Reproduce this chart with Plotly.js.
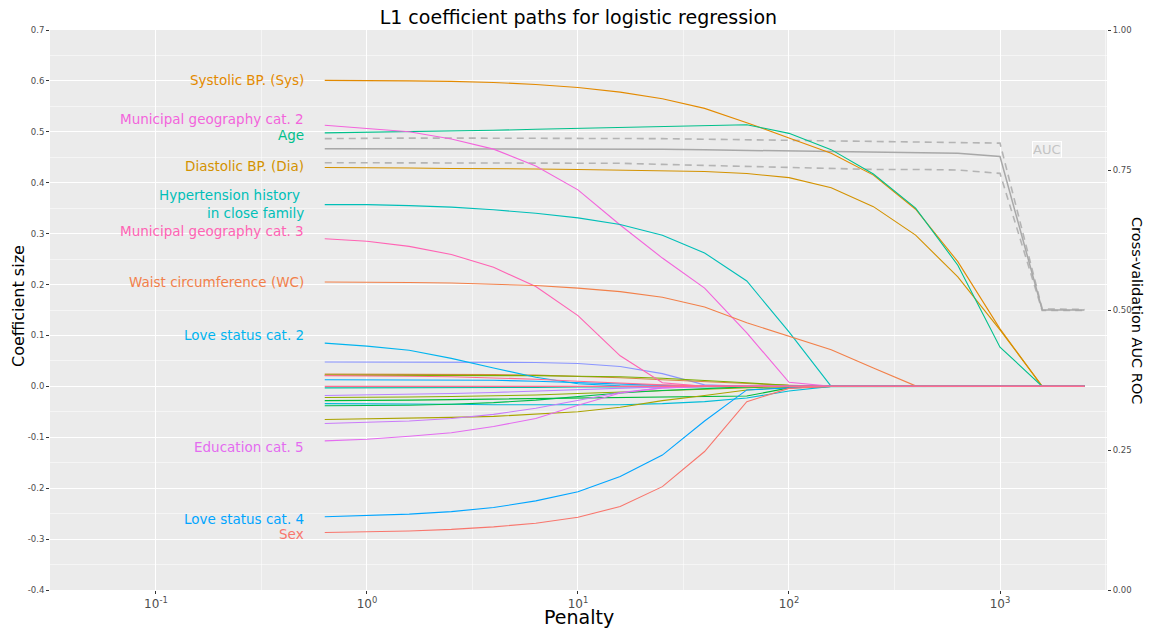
<!DOCTYPE html>
<html>
<head>
<meta charset="utf-8">
<script src="https://cdn.plot.ly/plotly-3.0.1.min.js"></script>
<style>html,body{margin:0;padding:0;background:#fff;}#chart{width:1151px;height:628px;}</style>
</head>
<body>
<div id="chart"></div>
<script>
// Penalty grid (x values)
const penalty = [0.631, 1, 1.585, 2.512, 3.981, 6.31, 10, 15.85, 25.12, 39.81, 63.1, 100, 158.5, 251.2, 398.1, 631, 1000, 1585, 2512];

// Cross-validation AUC (right axis)
const aucMean  = [0.788,0.788,0.788,0.788,0.788,0.788,0.788,0.787,0.787,0.786,0.785,0.784,0.782,0.781,0.780,0.780,0.774,0.500,0.500];
const aucUpper = [0.806,0.807,0.807,0.807,0.807,0.807,0.807,0.806,0.806,0.805,0.804,0.803,0.802,0.801,0.801,0.800,0.798,0.502,0.501];
const aucLower = [0.763,0.763,0.763,0.763,0.763,0.763,0.763,0.762,0.760,0.758,0.756,0.754,0.752,0.751,0.751,0.750,0.744,0.499,0.499];

// Labelled coefficient paths
const systolic    = [0.601,0.601,0.600,0.599,0.597,0.593,0.587,0.578,0.565,0.546,0.518,0.488,0.458,0.415,0.348,0.245,0.113,0,0];
const diastolic   = [0.430,0.430,0.429,0.428,0.428,0.427,0.426,0.425,0.424,0.422,0.418,0.410,0.390,0.353,0.297,0.215,0.111,0,0];
const age         = [0.498,0.499,0.500,0.501,0.503,0.505,0.507,0.509,0.511,0.513,0.514,0.497,0.465,0.417,0.350,0.238,0.077,0,0];
const munGeo2     = [0.513,0.507,0.500,0.486,0.466,0.433,0.386,0.317,0.252,0.193,0.105,0.008,0,0,0,0,0,0,0];
const hypertension= [0.357,0.357,0.355,0.352,0.347,0.340,0.331,0.318,0.297,0.262,0.207,0.107,0,0,0,0,0,0,0];
const munGeo3     = [0.290,0.285,0.275,0.259,0.234,0.196,0.139,0.060,0.007,0,0,0,0,0,0,0,0,0,0];
const waist       = [0.205,0.205,0.204,0.203,0.201,0.198,0.193,0.186,0.175,0.156,0.125,0.099,0.072,0.036,0.001,0,0,0,0];
const loveStatus2 = [0.085,0.079,0.071,0.055,0.036,0.018,0.005,0.001,0,0,0,0,0,0,0,0,0,0,0];
const education5  = [-0.107,-0.104,-0.098,-0.091,-0.079,-0.063,-0.037,-0.013,-0.003,0,0,0,0,0,0,0,0,0,0];
const loveStatus4 = [-0.256,-0.254,-0.251,-0.246,-0.238,-0.225,-0.207,-0.177,-0.135,-0.068,-0.007,-0.003,0,0,0,0,0,0,0];
const sex         = [-0.287,-0.286,-0.284,-0.281,-0.276,-0.269,-0.257,-0.236,-0.197,-0.128,-0.030,-0.004,0,0,0,0,0,0,0];

// Unlabelled coefficient paths
const other01 = [0.048,0.048,0.048,0.048,0.048,0.047,0.045,0.039,0.025,0.003,0,0,0,0,0,0,0,0,0];
const other02 = [0.024,0.024,0.024,0.023,0.023,0.022,0.020,0.017,0.013,0.009,0.005,0.002,0,0,0,0,0,0,0];
const other03 = [0.022,0.022,0.022,0.022,0.021,0.021,0.020,0.019,0.016,0.012,0.007,0.002,0,0,0,0,0,0,0];
const other04 = [0.021,0.021,0.020,0.019,0.017,0.014,0.010,0.006,0.003,0.001,0,0,0,0,0,0,0,0,0];
const other05 = [0.013,0.013,0.013,0.013,0.012,0.010,0.007,0.004,0.002,0,0,0,0,0,0,0,0,0,0];
const other06 = [-0.003,-0.003,-0.003,-0.002,-0.002,-0.002,-0.001,-0.001,0,0,0,0,0,0,0,0,0,0,0];
const other07 = [-0.018,-0.017,-0.016,-0.014,-0.012,-0.009,-0.006,-0.003,-0.001,0,0,0,0,0,0,0,0,0,0];
const other08 = [-0.022,-0.022,-0.021,-0.020,-0.019,-0.017,-0.014,-0.011,-0.008,-0.005,-0.002,0,0,0,0,0,0,0,0];
const other09 = [-0.028,-0.028,-0.027,-0.026,-0.025,-0.024,-0.022,-0.021,-0.020,-0.020,-0.019,-0.003,0,0,0,0,0,0,0];
const other10 = [-0.034,-0.034,-0.035,-0.035,-0.036,-0.036,-0.037,-0.036,-0.034,-0.030,-0.023,-0.009,0,0,0,0,0,0,0];
const other11 = [-0.038,-0.038,-0.037,-0.035,-0.032,-0.027,-0.020,-0.013,-0.008,-0.004,-0.001,0,0,0,0,0,0,0,0];
const other12 = [-0.065,-0.064,-0.063,-0.061,-0.059,-0.055,-0.050,-0.041,-0.028,-0.018,-0.007,-0.002,0,0,0,0,0,0,0];
const other13 = [-0.073,-0.071,-0.068,-0.063,-0.055,-0.043,-0.027,-0.012,-0.003,0,0,0,0,0,0,0,0,0,0];
const other14 = [0,0,0,0,0,0,0,0,0,0,0,0,0,0,0,0,0,0,0];

// Labels
const labelNames = ["Systolic BP. (Sys)","Municipal geography cat. 2","Age","Diastolic BP. (Dia)",
  "Hypertension history <br>in close family","Municipal geography cat. 3","Waist circumference (WC)",
  "Love status cat. 2","Education cat. 5","Love status cat. 4","Sex"];
const labelY = [0.601, 0.525, 0.494, 0.432, 0.358, 0.306, 0.205, 0.101, -0.120, -0.261, -0.290];
const labelColors = ["#E38A00","#F364DC","#00C08B","#D39200","#00BFB8","#FF63B4","#F2804A","#00B4EF","#E46CF0","#00A5FF","#F8766D"];

const yTickVals = [-0.4,-0.3,-0.2,-0.1,0,0.1,0.2,0.3,0.4,0.5,0.6,0.7];
const yTickText = ["-0.4","-0.3","-0.2","-0.1","0.0","0.1","0.2","0.3","0.4","0.5","0.6","0.7"];
const aucTickVals = [0,0.25,0.5,0.75,1];
const aucTickText = ["0.00","0.25","0.50","0.75","1.00"];
const xTickVals = [0.1,1,10,100,1000];
const xTickText = ["10<sup>-1</sup>","10<sup>0</sup>","10<sup>1</sup>","10<sup>2</sup>","10<sup>3</sup>"];
const xMinorVals = [0.0316,0.316,3.16,31.6,316,3162];

const coefSeries = [
  [other01,"#8A95FF"],[other02,"#D58A40"],[other03,"#7CAE00"],[other05,"#00ABFD"],
  [other06,"#00C1A3"],[other07,"#B983FF"],[other08,"#8FAA00"],[other09,"#00BA38"],
  [other10,"#00BCD8"],[other11,"#00BB4E"],[other12,"#ABA300"],[other13,"#C97BFA"],
  [systolic,labelColors[0]],[diastolic,labelColors[3]],[age,labelColors[2]],
  [munGeo2,labelColors[1]],[hypertension,labelColors[4]],[munGeo3,labelColors[5]],
  [waist,labelColors[6]],[loveStatus2,labelColors[7]],[education5,labelColors[8]],
  [loveStatus4,labelColors[9]],[sex,labelColors[10]],[other04,"#FF6C91"],[other14,"#FF6C91"]
];

const traces = [];
// AUC on primary y (right side), drawn beneath
traces.push({x:penalty,y:aucUpper,type:'scatter',mode:'lines',yaxis:'y',line:{color:'#B4B4B4',width:1.6,dash:'7px,5px'},hoverinfo:'skip'});
traces.push({x:penalty,y:aucLower,type:'scatter',mode:'lines',yaxis:'y',line:{color:'#B4B4B4',width:1.6,dash:'7px,5px'},hoverinfo:'skip'});
traces.push({x:penalty,y:aucMean,type:'scatter',mode:'lines',yaxis:'y',line:{color:'#A8A8A8',width:1.5},hoverinfo:'skip'});
coefSeries.forEach(function(s){
  traces.push({x:penalty,y:s[0],type:'scatter',mode:'lines',yaxis:'y2',line:{color:s[1],width:1.1},hoverinfo:'skip'});
});

const annotations = labelNames.map(function(t,i){
  return {x:-0.303, xref:'x', xshift:3, y:labelY[i], yref:'y2', text:t, showarrow:false,
    xanchor:'right', yanchor:'middle', align:'right', font:{size:13.5,color:labelColors[i]}};
});
annotations.push({x:3.221, xref:'x', y:0.7875, yref:'y', text:'AUC', showarrow:false,
  xanchor:'center', yanchor:'middle', font:{size:13,color:'#C4C4C4'},
  bgcolor:'rgba(255,255,255,0.25)', bordercolor:'#FFFFFF', borderwidth:1, borderpad:0});
annotations.push({x:0, xref:'paper', xshift:-32, y:0.5, yref:'paper', yshift:4, text:'Coefficient size', textangle:-90,
  showarrow:false, xanchor:'center', yanchor:'middle', font:{size:16,color:'#000'}});
annotations.push({x:0.5, xref:'paper', y:0, yref:'paper', yshift:-27, text:'Penalty',
  showarrow:false, xanchor:'center', yanchor:'middle', font:{size:19,color:'#000'}});
annotations.push({x:1, xref:'paper', xshift:30, y:0.5, yref:'paper', text:'Cross-validation AUC ROC', textangle:90,
  showarrow:false, xanchor:'center', yanchor:'middle', font:{size:14.5,color:'#000'}});

const layout = {
  width:1151, height:628,
  margin:{l:50,r:44,t:30,b:38},
  paper_bgcolor:'#FFFFFF', plot_bgcolor:'#EBEBEB',
  font:{family:'DejaVu Sans, sans-serif', color:'#4D4D4D'},
  showlegend:false,
  title:{text:'L1 coefficient paths for logistic regression', font:{size:19,color:'#000'},
    x:0.5025, xanchor:'center', xref:'container', y:1-17/628, yanchor:'middle', yref:'container'},
  xaxis:{type:'log', range:[-1.502,3.507], tickmode:'array', tickvals:xTickVals, ticktext:xTickText,
    showgrid:true, gridcolor:'#FFFFFF', gridwidth:1,
    minor:{tickmode:'array', tickvals:xMinorVals, showgrid:true, gridcolor:'#FFFFFF', gridwidth:0.5, ticks:''},
    ticks:'outside', ticklen:3, tickcolor:'#333333', tickwidth:1, tickfont:{size:12,color:'#4D4D4D'},
    zeroline:false, showline:false, automargin:false},
  yaxis:{side:'right', range:[0,1], tickmode:'array', tickvals:aucTickVals, ticktext:aucTickText,
    showgrid:false, zeroline:false, showline:false, ticks:'outside', ticklen:3, tickcolor:'#333333',
    tickfont:{size:8.5,color:'#4D4D4D'}, automargin:false},
  yaxis2:{overlaying:'y', side:'left', range:[-0.4,0.7], tickmode:'array', tickvals:yTickVals, ticktext:yTickText,
    showgrid:true, gridcolor:'#FFFFFF', gridwidth:1,
    minor:{tickmode:'linear', tick0:0, dtick:0.05, showgrid:true, gridcolor:'#FFFFFF', gridwidth:0.5, ticks:''},
    zeroline:false, showline:false, ticks:'outside', ticklen:3, tickcolor:'#333333',
    tickfont:{size:8.5,color:'#4D4D4D'}, automargin:false},
  annotations:annotations
};

Plotly.newPlot('chart', traces, layout, {displayModeBar:false, staticPlot:true});
</script>
</body>
</html>
